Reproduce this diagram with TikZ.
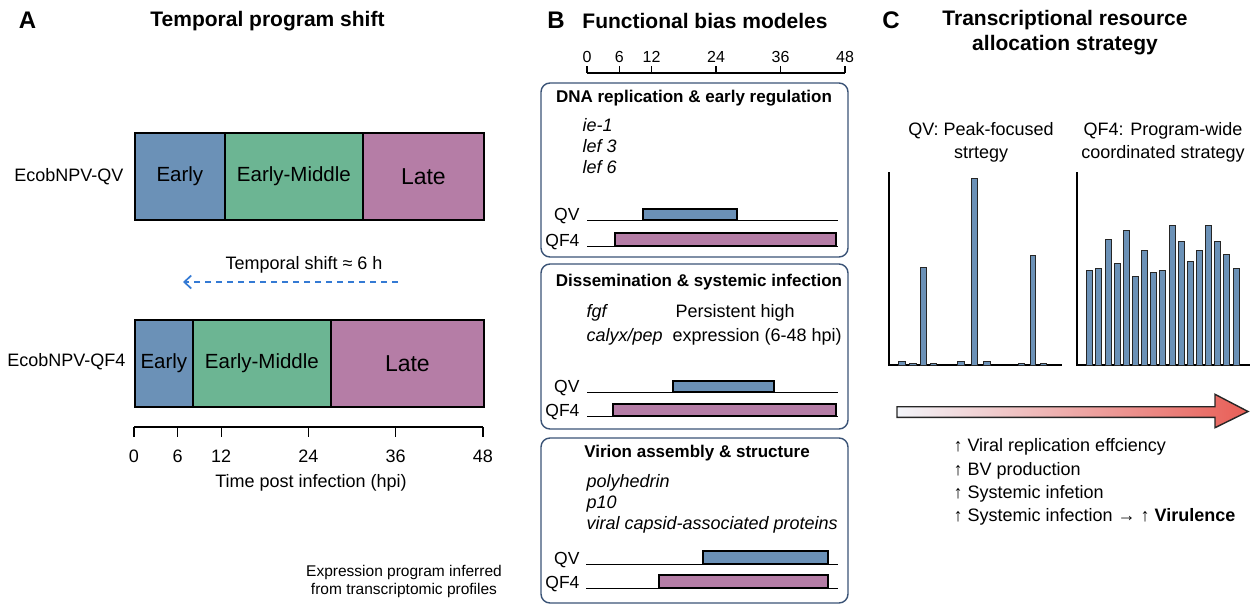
\documentclass[tikz,border=0pt]{standalone}
\usepackage{fontspec}
\setmainfont{Liberation Sans}
\usetikzlibrary{arrows.meta,positioning}
\definecolor{phaseblue}{RGB}{107,145,183}
\definecolor{phasegreen}{RGB}{108,181,147}
\definecolor{phasepurple}{RGB}{181,125,166}
\definecolor{boxslate}{RGB}{58,83,118}
\definecolor{shiftblue}{RGB}{52,122,212}
\definecolor{arrowpale}{RGB}{243,245,250}
\definecolor{arrowred}{RGB}{232,94,86}
\newcommand{\fsz}[2]{\fontsize{#1pt}{#2pt}\selectfont}

\begin{document}
\begin{tikzpicture}[x=1pt,y=-1pt,
    panel/.style={font=\fsz{24}{28}\bfseries},
    heading/.style={font=\fsz{21}{25}\bfseries,align=center},
    lbl/.style={font=\fsz{18}{23}},
    ticklbl/.style={font=\fsz{16}{18}},
    phase/.style={draw=black,line width=1.8pt,minimum height=87pt,
                  inner sep=0pt,anchor=north west,font=\fsz{20.5}{24}},
    modbox/.style={draw=boxslate,line width=1.4pt,rounded corners=9pt},
    boxtitle/.style={font=\fsz{17}{20}\bfseries},
    gene/.style={font=\fsz{18}{21}\itshape,align=left,anchor=west},
    rowlbl/.style={font=\fsz{17.5}{20},anchor=base east},
    expr/.style={draw=black,line width=1.1pt},
    cbar/.style={draw=black!85,line width=1pt,fill=phaseblue}]
  \useasboundingbox (0,0) rectangle (1260,613);

  % A: przesunięcie programu czasowego
  \node[panel] (A) at (27.5,20.5) {A};
  \node[heading] (atitle) at (267.5,21) {Temporal program shift};
  \node[phase,fill=phaseblue,minimum width=90pt] (qvE) at (134,132) {Early};
  \node[phase,fill=phasegreen,minimum width=138pt] (qvM) at (224,132) {Early-Middle};
  \node[phase,fill=phasepurple,minimum width=121pt,font=\fsz{23}{26}] (qvL) at (362,132) {Late};
  \node[lbl,anchor=east] (qvname) at (127,177) {EcobNPV-QV};
  \node[phase,fill=phaseblue,minimum width=58pt] (qfE) at (134,319) {Early};
  \node[phase,fill=phasegreen,minimum width=138pt] (qfM) at (192,319) {Early-Middle};
  \node[phase,fill=phasepurple,minimum width=153pt,font=\fsz{23}{26}] (qfL) at (330,319) {Late};
  \node[lbl,anchor=east] (qfname) at (129,362) {EcobNPV-QF4};
  \node[lbl] (shifttxt) at (304,265) {Temporal shift ≈ 6 h};
  \coordinate (shR) at (398,282);
  \coordinate (shL) at (183,282);
  \draw[shiftblue,line width=1.7pt,dash pattern=on 6pt off 5pt,
        -{Straight Barb[length=7pt,width=13pt]}] (shR) -- (shL);
  \draw[line width=1.2pt] (134,427) -- (483,427);
  \foreach \h in {0,6,12,24,36,48}{
    \draw[line width=1.2pt] ({134+7.27*\h},427) -- ++(0,10);
    \node[lbl] (ta\h) at ({134+7.27*\h},456) {\h};
  }
  \node[lbl] (axtitle) at (311,483) {Time post infection (hpi)};
  \node[font=\fsz{15.5}{18},align=center] (note) at (404,581)
       {Expression program inferred\\from transcriptomic profiles};

  % B: modele funkcjonalne
  \node[panel] (B) at (556,20.5) {B};
  \node[heading] (btitle) at (705,21) {Functional bias modeles};
  \draw[line width=1.1pt] (587,73) -- (845,73);
  \foreach \h in {0,6,12,24,36,48}{
    \draw[line width=1.1pt] ({587+5.375*\h},73) -- ++(0,-7);
    \node[ticklbl] (tb\h) at ({587+5.375*\h},57) {\h};
  }
  \draw[modbox] (541,83) rectangle (848,257);
  \node[boxtitle] (b1t) at (694,98) {DNA replication \& early regulation};
  \node[gene] (b1g) at (579,146) {ie-1\\lef 3\\lef 6};
  \node[rowlbl] (b1qv) at (583,220) {QV};
  \draw[line width=1pt] (587,220) -- (838,220);
  \draw[expr,fill=phaseblue] (643,209) rectangle (737,220);
  \node[rowlbl] (b1qf) at (583,246) {QF4};
  \draw[line width=1pt] (587,246) -- (838,246);
  \draw[expr,fill=phasepurple] (615,233) rectangle (836,246);

  \draw[modbox] (541,264) rectangle (848,429);
  \node[boxtitle] (b2t) at (699,282) {Dissemination \& systemic infection};
  \node[gene,font=\fsz{18}{24}\itshape] (b2g) at (583,325) {fgf\\calyx/pep};
  \node[lbl,align=left,anchor=west,font=\fsz{18}{24}] (b2note) at (669,325)
       {\,Persistent high\\expression (6-48 hpi)};
  \node[rowlbl] (b2qv) at (583,392) {QV};
  \draw[line width=1pt] (587,392) -- (838,392);
  \draw[expr,fill=phaseblue] (673,381) rectangle (774,392);
  \node[rowlbl] (b2qf) at (583,416) {QF4};
  \draw[line width=1pt] (587,416) -- (838,416);
  \draw[expr,fill=phasepurple] (613,404) rectangle (836,416);

  \draw[modbox] (541,438) rectangle (848,603);
  \node[boxtitle] (b3t) at (697,453) {Virion assembly \& structure};
  \node[gene] (b3g) at (583,504) {polyhedrin\\p10\\viral capsid-associated proteins};
  \node[rowlbl] (b3qv) at (583,564) {QV};
  \draw[line width=1pt] (586,564) -- (838,564);
  \draw[expr,fill=phaseblue] (703,551) rectangle (828,564);
  \node[rowlbl] (b3qf) at (583,588) {QF4};
  \draw[line width=1pt] (586,588) -- (838,588);
  \draw[expr,fill=phasepurple] (659,575) rectangle (828,588);

  % C: strategia alokacji zasobów
  \node[panel] (C) at (891,20.5) {C};
  \node[heading] (ctitle) at (1065,33) {Transcriptional resource\\allocation strategy};
  \node[lbl,align=center] (cqv) at (981,142) {QV: Peak-focused\\strtegy};
  \node[lbl,align=center] (cqf) at (1163,142) {QF4: Program-wide\\coordinated strategy};
  \draw[line width=1.1pt] (889,172) -- (889,365) -- (1062,365);
  \draw[line width=1.1pt] (1077,172) -- (1077,365) -- (1250,365);
  \foreach \l/\r/\t in {898.3/905.7/361,909.3/916/363,920.5/926.5/267,
      930/936.7/363,957.3/964.7/361,971.3/977/178,983.3/990/361,
      1018/1024.7/363,1030/1035.7/255,1040.3/1046.7/363}
    \draw[cbar] (\l,365) rectangle (\r,\t);
  \foreach \t [count=\i] in {270.7,268,239.3,263.7,230,276.7,250.3,272.7,
      270.7,225.7,241.3,261,250.3,225.7,241.3,254.3,268}
    \draw[cbar] ({1077.55+\i*9.15},365) rectangle ({1083.55+\i*9.15},\t);
  \draw[line width=1.4pt,black!85,left color=arrowpale,right color=arrowred]
       (897,406.7) -- (1215,406.7) -- (1215,394.3) -- (1248,411.5)
       -- (1215,427.7) -- (1215,417.3) -- (897,417.3) -- cycle;
  \node[lbl,align=left,anchor=west,font=\fsz{18}{23.3}] (effects) at (950,482)
       {↑ Viral replication effciency\\↑ BV production\\↑ Systemic infetion\\
        ↑ Systemic infection → ↑ \textbf{Virulence}};
\end{tikzpicture}
\end{document}
